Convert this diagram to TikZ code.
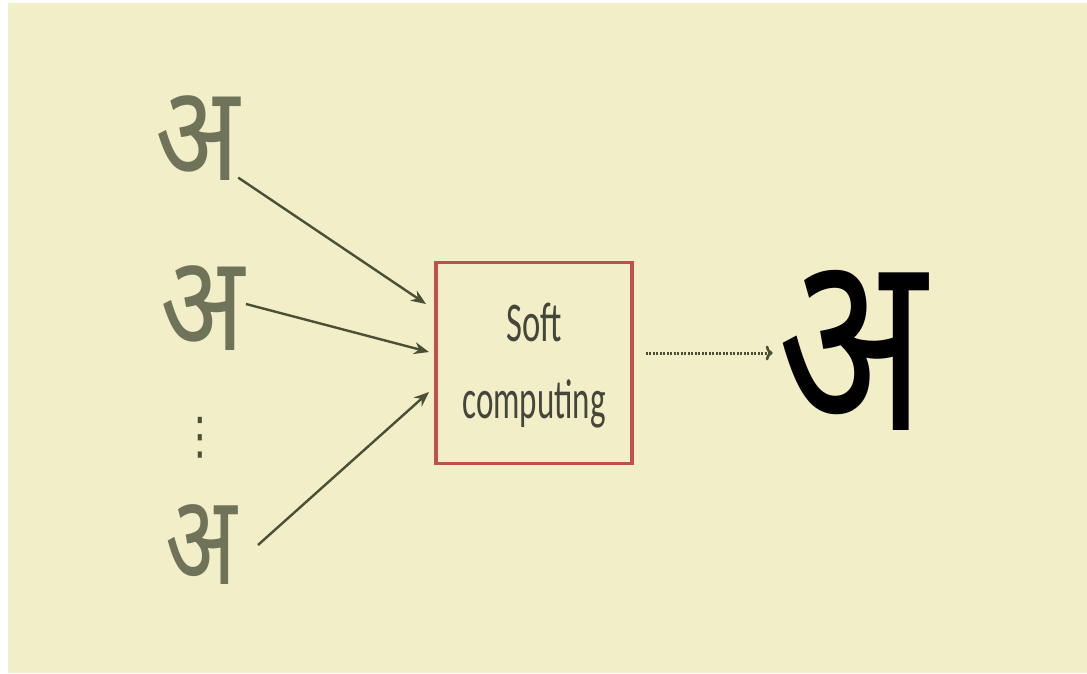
\documentclass[tikz,border=0pt]{standalone}
\usepackage{fontspec}
\newfontfamily\deva[Script=Devanagari]{Noto Sans}
\newfontfamily\labelfont{Carlito}
\newfontfamily\symfont{DejaVu Sans}
\usetikzlibrary{arrows.meta}
\definecolor{paper}{HTML}{F2EEC8}
\definecolor{inkgrey}{HTML}{6E7359}
\definecolor{linegrey}{HTML}{4A5036}
\definecolor{boxred}{HTML}{C0504D}
\definecolor{textgrey}{HTML}{45463B}
\tikzset{
  inletter/.style={inner sep=0pt, text=inkgrey, font=\deva\fontsize{110}{110}\selectfont},
  outletter/.style={inner sep=0pt, text=black, font=\deva\bfseries\fontsize{195}{195}\selectfont},
  feed/.style={draw=linegrey, line width=2.4pt, -{Stealth[length=15pt,width=12pt]}},
  result/.style={draw=linegrey, line width=3pt, dash pattern=on 2.2pt off 1.3pt, -{To[length=7pt,width=15pt,line width=2.6pt]}},
  procbox/.style={draw=boxred, line width=3.4pt, minimum width=196pt, minimum height=201pt, inner sep=0pt},
  boxtext/.style={text=textgrey, font=\labelfont\fontsize{33}{33}\selectfont, inner sep=0pt}
}
\begin{document}
\begin{tikzpicture}[x=1pt,y=-1pt]
  % page and background
  \useasboundingbox (0,0) rectangle (1087,673);
  \fill[white] (0,0) rectangle (1087,673);
  \fill[paper] (8,3) rectangle (1087,673);

  % input characters
  \node[inletter] (in1) at (198,138) {\scalebox{1}[1.22]{अ}};
  \node[inletter] (in2) at (203,308) {\scalebox{1}[1.22]{अ}};
  \node[inletter] (in3) at (201,545) {\scalebox{0.85}[1.15]{अ}};
  \node[inner sep=0pt, text=linegrey, font=\symfont\fontsize{44}{44}\selectfont] (dots) at (200,438) {\scalebox{0.9}[1.15]{⋮}};

  % processing box
  \node[procbox] (box) at (534,363) {};
  \node[boxtext] (soft) at (534,322) {\scalebox{1.05}[1.7]{Soft}};
  \node[boxtext] (comp) at (534,404) {\scalebox{1}[1.7]{computing}};

  % output character
  \node[outletter] (out) at (852,350) {\scalebox{1}[1.3]{अ}};

  % connectors
  \coordinate (e1) at (426,304);
  \coordinate (e2) at (429,352);
  \coordinate (e3) at (429,392);
  \draw[feed] (in1.south east) ++(-2,-3) -- (e1);
  \draw[feed] (246,304) -- (e2);
  \draw[feed] (258,545) -- (e3);
  \draw[result] (box.east) ++(12,-10) coordinate (r0) -- ++(127,0) coordinate (r1);
\end{tikzpicture}
\end{document}
